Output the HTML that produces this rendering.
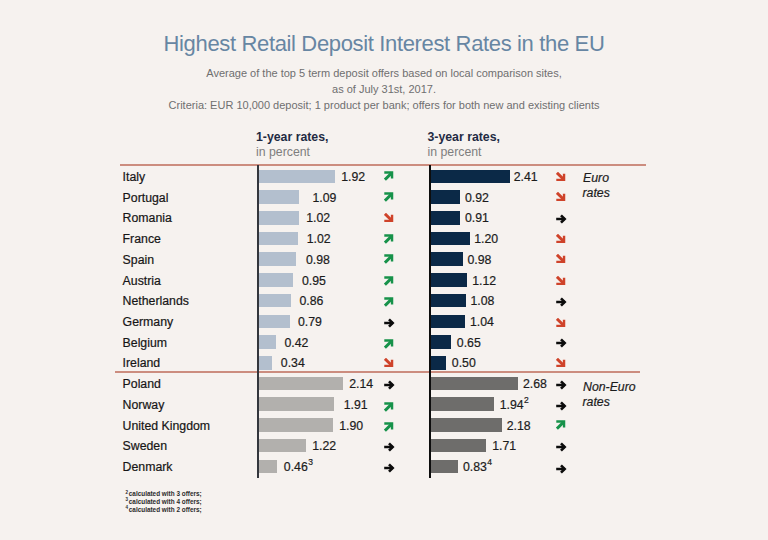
<!DOCTYPE html>
<html><head><meta charset="utf-8"><style>
html,body{margin:0;padding:0}
body{width:768px;height:540px;background:#f6f2ef;position:relative;overflow:hidden;font-family:"Liberation Sans",sans-serif}
.t{position:absolute;white-space:nowrap;line-height:1}
.title{font-size:22px;color:#6786a3;letter-spacing:-0.35px;left:0;width:768px;text-align:center;top:33.0px}
.sub{font-size:11px;color:#6f6f6f;left:0;width:768px;text-align:center}
.hd{font-size:12.3px;font-weight:bold;color:#1f2b43}
.hd2{font-size:12.3px;color:#7e7e7e}
.name{font-size:12.3px;color:#161616;-webkit-text-stroke:0.2px #161616}
.val{font-size:12.3px;color:#1c1c1c;-webkit-text-stroke:0.2px #1c1c1c}
.val sup{font-size:8.5px;vertical-align:0;position:relative;top:-6px;margin-left:0.4px}
.bar{position:absolute;height:13.6px}
.ar{position:absolute}
.line{position:absolute;height:1.8px;background:#cc8d7f}
.axis{position:absolute;width:2px;background:#33363c}
.it{font-size:12.3px;font-style:italic;color:#1c1c1c;-webkit-text-stroke:0.2px #1c1c1c}
.fn{font-size:6.4px;font-weight:bold;color:#2a2a2a;left:125.5px}
.fn sup{font-size:4.5px;vertical-align:0;position:relative;top:-2.3px;margin-right:0.8px}
</style></head><body>
<div class="t title">Highest Retail Deposit Interest Rates in the EU</div>
<div class="t sub" style="top:68.4px">Average of the top 5 term deposit offers based on local comparison sites,</div>
<div class="t sub" style="top:83.7px">as of July 31st, 2017.</div>
<div class="t sub" style="top:99.8px">Criteria: EUR 10,000 deposit; 1 product per bank; offers for both new and existing clients</div>
<div class="t hd" style="left:256px;top:131px">1-year rates,</div>
<div class="t hd2" style="left:256px;top:146.4px">in percent</div>
<div class="t hd" style="left:427.5px;top:131px">3-year rates,</div>
<div class="t hd2" style="left:427.5px;top:146.4px">in percent</div>
<div class="line" style="left:120px;top:164.1px;width:526px"></div>
<div class="line" style="left:115px;top:371.1px;width:525px"></div>
<div class="axis" style="left:257px;top:165px;height:313px"></div>
<div class="axis" style="left:429px;top:165px;height:313px;background:#0d0d0d"></div>
<div class="t it" style="left:583px;top:172.09px">Euro</div>
<div class="t it" style="left:582.5px;top:186.59px">rates</div>
<div class="t it" style="left:583px;top:380.59px">Non-Euro</div>
<div class="t it" style="left:582.5px;top:395.59px">rates</div>
<div class="t name" style="left:122.6px;top:170.99px">Italy</div>
<div class="bar" style="left:259px;top:169.50px;width:76.0px;background:#b3bfce"></div>
<div class="bar" style="left:431px;top:169.50px;width:78.5px;background:#0b2947"></div>
<div class="t val" style="left:341.2px;top:170.99px">1.92</div>
<div class="t val" style="left:513.7px;top:170.99px">2.41</div>
<svg class="ar" style="left:384.2px;top:170.8px" width="10" height="10" viewBox="0 0 10 10"><path d="M0.3 1.55 H8.05 V7.6" stroke="#17924a" stroke-width="2.4" fill="none" stroke-linejoin="miter"/><path d="M0.9 8.6 L7.8 1.9" stroke="#17924a" stroke-width="3" fill="none"/></svg>
<svg class="ar" style="left:556.2px;top:171.6px" width="10" height="10" viewBox="0 0 10 10"><g transform="translate(0,9.4) scale(1,-1)"><path d="M0.3 1.55 H8.05 V7.6" stroke="#cf432a" stroke-width="2.4" fill="none" stroke-linejoin="miter"/><path d="M0.9 8.6 L7.8 1.9" stroke="#cf432a" stroke-width="3" fill="none"/></g></svg>
<div class="t name" style="left:122.6px;top:191.71px">Portugal</div>
<div class="bar" style="left:259px;top:190.22px;width:40.0px;background:#b3bfce"></div>
<div class="bar" style="left:431px;top:190.22px;width:29.0px;background:#0b2947"></div>
<div class="t val" style="left:312.4px;top:191.71px">1.09</div>
<div class="t val" style="left:465.0px;top:191.71px">0.92</div>
<svg class="ar" style="left:384.2px;top:192.2px" width="10" height="10" viewBox="0 0 10 10"><path d="M0.3 1.55 H8.05 V7.6" stroke="#17924a" stroke-width="2.4" fill="none" stroke-linejoin="miter"/><path d="M0.9 8.6 L7.8 1.9" stroke="#17924a" stroke-width="3" fill="none"/></svg>
<svg class="ar" style="left:556.2px;top:192.2px" width="10" height="10" viewBox="0 0 10 10"><g transform="translate(0,9.4) scale(1,-1)"><path d="M0.3 1.55 H8.05 V7.6" stroke="#cf432a" stroke-width="2.4" fill="none" stroke-linejoin="miter"/><path d="M0.9 8.6 L7.8 1.9" stroke="#cf432a" stroke-width="3" fill="none"/></g></svg>
<div class="t name" style="left:122.6px;top:212.43px">Romania</div>
<div class="bar" style="left:259px;top:210.94px;width:40.0px;background:#b3bfce"></div>
<div class="bar" style="left:431px;top:210.94px;width:29.0px;background:#0b2947"></div>
<div class="t val" style="left:306.2px;top:212.43px">1.02</div>
<div class="t val" style="left:465.0px;top:212.43px">0.91</div>
<svg class="ar" style="left:384.2px;top:212.8px" width="10" height="10" viewBox="0 0 10 10"><g transform="translate(0,9.4) scale(1,-1)"><path d="M0.3 1.55 H8.05 V7.6" stroke="#cf432a" stroke-width="2.4" fill="none" stroke-linejoin="miter"/><path d="M0.9 8.6 L7.8 1.9" stroke="#cf432a" stroke-width="3" fill="none"/></g></svg>
<svg class="ar" style="left:555.5px;top:214.0px" width="11" height="10" viewBox="0 0 11 10"><path d="M0.2 5 H9" stroke="#0c0c0c" stroke-width="2.5" fill="none"/><path d="M5 1.3 L8.7 5 L5 8.7" stroke="#0c0c0c" stroke-width="2.6" fill="none" stroke-linejoin="miter"/></svg>
<div class="t name" style="left:122.6px;top:233.15px">France</div>
<div class="bar" style="left:259px;top:231.66px;width:38.5px;background:#b3bfce"></div>
<div class="bar" style="left:431px;top:231.66px;width:38.5px;background:#0b2947"></div>
<div class="t val" style="left:306.7px;top:233.15px">1.02</div>
<div class="t val" style="left:474.2px;top:233.15px">1.20</div>
<svg class="ar" style="left:384.2px;top:233.7px" width="10" height="10" viewBox="0 0 10 10"><path d="M0.3 1.55 H8.05 V7.6" stroke="#17924a" stroke-width="2.4" fill="none" stroke-linejoin="miter"/><path d="M0.9 8.6 L7.8 1.9" stroke="#17924a" stroke-width="3" fill="none"/></svg>
<svg class="ar" style="left:556.2px;top:233.9px" width="10" height="10" viewBox="0 0 10 10"><g transform="translate(0,9.4) scale(1,-1)"><path d="M0.3 1.55 H8.05 V7.6" stroke="#cf432a" stroke-width="2.4" fill="none" stroke-linejoin="miter"/><path d="M0.9 8.6 L7.8 1.9" stroke="#cf432a" stroke-width="3" fill="none"/></g></svg>
<div class="t name" style="left:122.6px;top:253.87px">Spain</div>
<div class="bar" style="left:259px;top:252.38px;width:37.0px;background:#b3bfce"></div>
<div class="bar" style="left:431px;top:252.38px;width:31.5px;background:#0b2947"></div>
<div class="t val" style="left:306.0px;top:253.87px">0.98</div>
<div class="t val" style="left:467.5px;top:253.87px">0.98</div>
<svg class="ar" style="left:384.2px;top:254.3px" width="10" height="10" viewBox="0 0 10 10"><path d="M0.3 1.55 H8.05 V7.6" stroke="#17924a" stroke-width="2.4" fill="none" stroke-linejoin="miter"/><path d="M0.9 8.6 L7.8 1.9" stroke="#17924a" stroke-width="3" fill="none"/></svg>
<svg class="ar" style="left:556.2px;top:254.1px" width="10" height="10" viewBox="0 0 10 10"><g transform="translate(0,9.4) scale(1,-1)"><path d="M0.3 1.55 H8.05 V7.6" stroke="#cf432a" stroke-width="2.4" fill="none" stroke-linejoin="miter"/><path d="M0.9 8.6 L7.8 1.9" stroke="#cf432a" stroke-width="3" fill="none"/></g></svg>
<div class="t name" style="left:122.6px;top:274.59px">Austria</div>
<div class="bar" style="left:259px;top:273.10px;width:33.5px;background:#b3bfce"></div>
<div class="bar" style="left:431px;top:273.10px;width:35.8px;background:#0b2947"></div>
<div class="t val" style="left:302.0px;top:274.59px">0.95</div>
<div class="t val" style="left:472.2px;top:274.59px">1.12</div>
<svg class="ar" style="left:384.2px;top:275.8px" width="10" height="10" viewBox="0 0 10 10"><path d="M0.3 1.55 H8.05 V7.6" stroke="#17924a" stroke-width="2.4" fill="none" stroke-linejoin="miter"/><path d="M0.9 8.6 L7.8 1.9" stroke="#17924a" stroke-width="3" fill="none"/></svg>
<svg class="ar" style="left:556.2px;top:275.8px" width="10" height="10" viewBox="0 0 10 10"><g transform="translate(0,9.4) scale(1,-1)"><path d="M0.3 1.55 H8.05 V7.6" stroke="#cf432a" stroke-width="2.4" fill="none" stroke-linejoin="miter"/><path d="M0.9 8.6 L7.8 1.9" stroke="#cf432a" stroke-width="3" fill="none"/></g></svg>
<div class="t name" style="left:122.6px;top:295.31px">Netherlands</div>
<div class="bar" style="left:259px;top:293.82px;width:31.5px;background:#b3bfce"></div>
<div class="bar" style="left:431px;top:293.82px;width:35.2px;background:#0b2947"></div>
<div class="t val" style="left:299.5px;top:295.31px">0.86</div>
<div class="t val" style="left:470.4px;top:295.31px">1.08</div>
<svg class="ar" style="left:384.2px;top:296.5px" width="10" height="10" viewBox="0 0 10 10"><path d="M0.3 1.55 H8.05 V7.6" stroke="#17924a" stroke-width="2.4" fill="none" stroke-linejoin="miter"/><path d="M0.9 8.6 L7.8 1.9" stroke="#17924a" stroke-width="3" fill="none"/></svg>
<svg class="ar" style="left:555.5px;top:296.7px" width="11" height="10" viewBox="0 0 11 10"><path d="M0.2 5 H9" stroke="#0c0c0c" stroke-width="2.5" fill="none"/><path d="M5 1.3 L8.7 5 L5 8.7" stroke="#0c0c0c" stroke-width="2.6" fill="none" stroke-linejoin="miter"/></svg>
<div class="t name" style="left:122.6px;top:316.03px">Germany</div>
<div class="bar" style="left:259px;top:314.54px;width:31.0px;background:#b3bfce"></div>
<div class="bar" style="left:431px;top:314.54px;width:33.5px;background:#0b2947"></div>
<div class="t val" style="left:298.0px;top:316.03px">0.79</div>
<div class="t val" style="left:470.0px;top:316.03px">1.04</div>
<svg class="ar" style="left:383.5px;top:317.6px" width="11" height="10" viewBox="0 0 11 10"><path d="M0.2 5 H9" stroke="#0c0c0c" stroke-width="2.5" fill="none"/><path d="M5 1.3 L8.7 5 L5 8.7" stroke="#0c0c0c" stroke-width="2.6" fill="none" stroke-linejoin="miter"/></svg>
<svg class="ar" style="left:556.2px;top:317.8px" width="10" height="10" viewBox="0 0 10 10"><g transform="translate(0,9.4) scale(1,-1)"><path d="M0.3 1.55 H8.05 V7.6" stroke="#cf432a" stroke-width="2.4" fill="none" stroke-linejoin="miter"/><path d="M0.9 8.6 L7.8 1.9" stroke="#cf432a" stroke-width="3" fill="none"/></g></svg>
<div class="t name" style="left:122.6px;top:336.75px">Belgium</div>
<div class="bar" style="left:259px;top:335.26px;width:16.5px;background:#b3bfce"></div>
<div class="bar" style="left:431px;top:335.26px;width:20.2px;background:#0b2947"></div>
<div class="t val" style="left:284.5px;top:336.75px">0.42</div>
<div class="t val" style="left:456.8px;top:336.75px">0.65</div>
<svg class="ar" style="left:384.2px;top:338.7px" width="10" height="10" viewBox="0 0 10 10"><path d="M0.3 1.55 H8.05 V7.6" stroke="#17924a" stroke-width="2.4" fill="none" stroke-linejoin="miter"/><path d="M0.9 8.6 L7.8 1.9" stroke="#17924a" stroke-width="3" fill="none"/></svg>
<svg class="ar" style="left:555.5px;top:337.5px" width="11" height="10" viewBox="0 0 11 10"><path d="M0.2 5 H9" stroke="#0c0c0c" stroke-width="2.5" fill="none"/><path d="M5 1.3 L8.7 5 L5 8.7" stroke="#0c0c0c" stroke-width="2.6" fill="none" stroke-linejoin="miter"/></svg>
<div class="t name" style="left:122.6px;top:357.47px">Ireland</div>
<div class="bar" style="left:259px;top:355.98px;width:13.0px;background:#b3bfce"></div>
<div class="bar" style="left:431px;top:355.98px;width:15.2px;background:#0b2947"></div>
<div class="t val" style="left:280.8px;top:357.47px">0.34</div>
<div class="t val" style="left:451.8px;top:357.47px">0.50</div>
<svg class="ar" style="left:384.2px;top:358.3px" width="10" height="10" viewBox="0 0 10 10"><g transform="translate(0,9.4) scale(1,-1)"><path d="M0.3 1.55 H8.05 V7.6" stroke="#cf432a" stroke-width="2.4" fill="none" stroke-linejoin="miter"/><path d="M0.9 8.6 L7.8 1.9" stroke="#cf432a" stroke-width="3" fill="none"/></g></svg>
<svg class="ar" style="left:556.2px;top:358.3px" width="10" height="10" viewBox="0 0 10 10"><g transform="translate(0,9.4) scale(1,-1)"><path d="M0.3 1.55 H8.05 V7.6" stroke="#cf432a" stroke-width="2.4" fill="none" stroke-linejoin="miter"/><path d="M0.9 8.6 L7.8 1.9" stroke="#cf432a" stroke-width="3" fill="none"/></g></svg>
<div class="t name" style="left:122.6px;top:378.19px">Poland</div>
<div class="bar" style="left:259px;top:376.70px;width:84.0px;background:#b2b0ad"></div>
<div class="bar" style="left:431px;top:376.70px;width:87.0px;background:#6e6d6b"></div>
<div class="t val" style="left:349.2px;top:378.19px">2.14</div>
<div class="t val" style="left:523.0px;top:378.19px">2.68</div>
<svg class="ar" style="left:383.5px;top:379.7px" width="11" height="10" viewBox="0 0 11 10"><path d="M0.2 5 H9" stroke="#0c0c0c" stroke-width="2.5" fill="none"/><path d="M5 1.3 L8.7 5 L5 8.7" stroke="#0c0c0c" stroke-width="2.6" fill="none" stroke-linejoin="miter"/></svg>
<svg class="ar" style="left:555.5px;top:379.7px" width="11" height="10" viewBox="0 0 11 10"><path d="M0.2 5 H9" stroke="#0c0c0c" stroke-width="2.5" fill="none"/><path d="M5 1.3 L8.7 5 L5 8.7" stroke="#0c0c0c" stroke-width="2.6" fill="none" stroke-linejoin="miter"/></svg>
<div class="t name" style="left:122.6px;top:398.91px">Norway</div>
<div class="bar" style="left:259px;top:397.42px;width:75.0px;background:#b2b0ad"></div>
<div class="bar" style="left:431px;top:397.42px;width:62.8px;background:#6e6d6b"></div>
<div class="t val" style="left:343.7px;top:398.91px">1.91</div>
<div class="t val" style="left:499.7px;top:398.91px">1.94<sup>2</sup></div>
<svg class="ar" style="left:384.2px;top:402.2px" width="10" height="10" viewBox="0 0 10 10"><path d="M0.3 1.55 H8.05 V7.6" stroke="#17924a" stroke-width="2.4" fill="none" stroke-linejoin="miter"/><path d="M0.9 8.6 L7.8 1.9" stroke="#17924a" stroke-width="3" fill="none"/></svg>
<svg class="ar" style="left:555.5px;top:400.6px" width="11" height="10" viewBox="0 0 11 10"><path d="M0.2 5 H9" stroke="#0c0c0c" stroke-width="2.5" fill="none"/><path d="M5 1.3 L8.7 5 L5 8.7" stroke="#0c0c0c" stroke-width="2.6" fill="none" stroke-linejoin="miter"/></svg>
<div class="t name" style="left:122.6px;top:419.63px">United Kingdom</div>
<div class="bar" style="left:259px;top:418.14px;width:74.2px;background:#b2b0ad"></div>
<div class="bar" style="left:431px;top:418.14px;width:71.0px;background:#6e6d6b"></div>
<div class="t val" style="left:339.2px;top:419.63px">1.90</div>
<div class="t val" style="left:506.7px;top:419.63px">2.18</div>
<svg class="ar" style="left:384.2px;top:422.0px" width="10" height="10" viewBox="0 0 10 10"><path d="M0.3 1.55 H8.05 V7.6" stroke="#17924a" stroke-width="2.4" fill="none" stroke-linejoin="miter"/><path d="M0.9 8.6 L7.8 1.9" stroke="#17924a" stroke-width="3" fill="none"/></svg>
<svg class="ar" style="left:556.2px;top:420.0px" width="10" height="10" viewBox="0 0 10 10"><path d="M0.3 1.55 H8.05 V7.6" stroke="#17924a" stroke-width="2.4" fill="none" stroke-linejoin="miter"/><path d="M0.9 8.6 L7.8 1.9" stroke="#17924a" stroke-width="3" fill="none"/></svg>
<div class="t name" style="left:122.6px;top:440.35px">Sweden</div>
<div class="bar" style="left:259px;top:438.86px;width:47.2px;background:#b2b0ad"></div>
<div class="bar" style="left:431px;top:438.86px;width:55.2px;background:#6e6d6b"></div>
<div class="t val" style="left:312.2px;top:440.35px">1.22</div>
<div class="t val" style="left:492.2px;top:440.35px">1.71</div>
<svg class="ar" style="left:383.5px;top:442.0px" width="11" height="10" viewBox="0 0 11 10"><path d="M0.2 5 H9" stroke="#0c0c0c" stroke-width="2.5" fill="none"/><path d="M5 1.3 L8.7 5 L5 8.7" stroke="#0c0c0c" stroke-width="2.6" fill="none" stroke-linejoin="miter"/></svg>
<svg class="ar" style="left:555.5px;top:442.0px" width="11" height="10" viewBox="0 0 11 10"><path d="M0.2 5 H9" stroke="#0c0c0c" stroke-width="2.5" fill="none"/><path d="M5 1.3 L8.7 5 L5 8.7" stroke="#0c0c0c" stroke-width="2.6" fill="none" stroke-linejoin="miter"/></svg>
<div class="t name" style="left:122.6px;top:461.07px">Denmark</div>
<div class="bar" style="left:259px;top:459.58px;width:17.8px;background:#b2b0ad"></div>
<div class="bar" style="left:431px;top:459.58px;width:26.5px;background:#6e6d6b"></div>
<div class="t val" style="left:283.8px;top:461.07px">0.46<sup>3</sup></div>
<div class="t val" style="left:463.0px;top:461.07px">0.83<sup>4</sup></div>
<svg class="ar" style="left:383.5px;top:462.8px" width="11" height="10" viewBox="0 0 11 10"><path d="M0.2 5 H9" stroke="#0c0c0c" stroke-width="2.5" fill="none"/><path d="M5 1.3 L8.7 5 L5 8.7" stroke="#0c0c0c" stroke-width="2.6" fill="none" stroke-linejoin="miter"/></svg>
<svg class="ar" style="left:555.5px;top:464.4px" width="11" height="10" viewBox="0 0 11 10"><path d="M0.2 5 H9" stroke="#0c0c0c" stroke-width="2.5" fill="none"/><path d="M5 1.3 L8.7 5 L5 8.7" stroke="#0c0c0c" stroke-width="2.6" fill="none" stroke-linejoin="miter"/></svg>
<div class="t fn" style="top:490.98px"><sup>2</sup>calculated with 3 offers;</div>
<div class="t fn" style="top:498.78px"><sup>3</sup>calculated with 4 offers;</div>
<div class="t fn" style="top:506.58px"><sup>4</sup>calculated with 2 offers;</div>
</body></html>
